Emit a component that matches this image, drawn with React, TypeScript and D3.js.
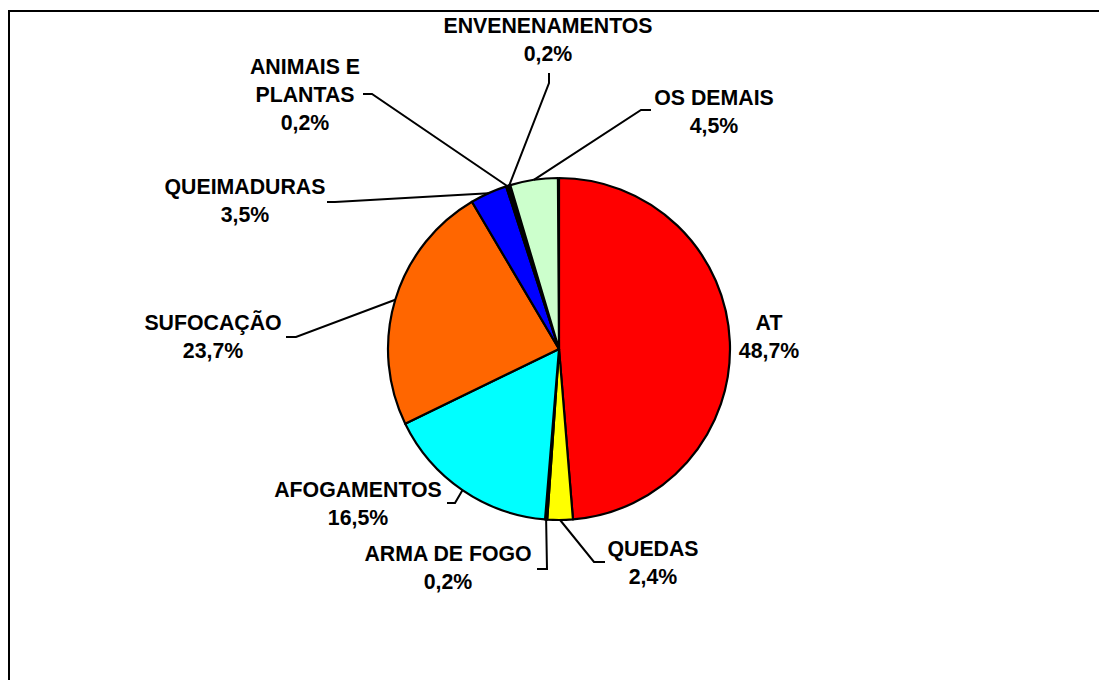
import React from "react";
import * as d3 from "d3";

const categories = [
  "AT",
  "QUEDAS",
  "ARMA DE FOGO",
  "AFOGAMENTOS",
  "SUFOCAÇÃO",
  "QUEIMADURAS",
  "ANIMAIS E PLANTAS",
  "ENVENENAMENTOS",
  "OS DEMAIS",
];
const values = [48.7, 2.4, 0.2, 16.5, 23.7, 3.5, 0.2, 0.2, 4.5];
const valueLabels = ["48,7%", "2,4%", "0,2%", "16,5%", "23,7%", "3,5%", "0,2%", "0,2%", "4,5%"];
const labelLines = [
  ["AT"],
  ["QUEDAS"],
  ["ARMA DE FOGO"],
  ["AFOGAMENTOS"],
  ["SUFOCAÇÃO"],
  ["QUEIMADURAS"],
  ["ANIMAIS E", "PLANTAS"],
  ["ENVENENAMENTOS"],
  ["OS DEMAIS"],
];
const colors = ["#FF0000", "#FFFF00", "#000000", "#00FFFF", "#FF6600", "#0000FF", "#800080", "#000000", "#CCFFCC"];

// layout: label center x, first-line center y, leader elbow and end points (null = no leader)
const labelLayout: { x: number; y: number; elbow: [number, number] | null; end: [number, number] | null }[] = [
  { x: 769, y: 322, elbow: null, end: null },
  { x: 653, y: 548, elbow: [594, 562], end: [605, 562] },
  { x: 448, y: 553, elbow: [547, 569], end: [537, 569] },
  { x: 358, y: 489, elbow: [455, 503], end: [447, 503] },
  { x: 213, y: 322, elbow: [296, 337], end: [286, 337] },
  { x: 245, y: 186, elbow: [335, 202], end: [327, 202] },
  { x: 305, y: 66, elbow: [372, 94], end: [363, 94] },
  { x: 548, y: 25, elbow: [549, 83], end: [549, 73] },
  { x: 714, y: 97, elbow: [641, 110], end: [651, 110] },
];

const W = 1099;
const H = 680;
const cx = 559;
const cy = 349;
const R = 171;
const lineH = 28;

export default function App() {
  const pie = d3
    .pie<number>()
    .sort(null)
    .value((d) => d)
    .startAngle(0)
    .endAngle((2 * Math.PI * d3.sum(values)) / 100);
  const arcs = pie(values);
  const arc = d3.arc<d3.PieArcDatum<number>>().innerRadius(0).outerRadius(R);

  return (
    <svg
      width={W}
      height={H}
      style={{ position: "absolute", left: 0, top: 0, background: "#fff" }}
      fontFamily="'Liberation Sans', Arial, sans-serif"
    >
      <rect x={9} y={11} width={1200} height={1000} fill="#fff" stroke="#000" strokeWidth={2} />
      <g transform={`translate(${cx},${cy})`}>
        {arcs.map((a, i) => (
          <path key={i} d={arc(a) || ""} fill={colors[i]} stroke="#000" strokeWidth={2.2} strokeLinejoin="round" />
        ))}
      </g>
      {arcs.map((a, i) => {
        const L = labelLayout[i];
        if (!L.elbow || !L.end) return null;
        const mid = (a.startAngle + a.endAngle) / 2;
        const ex = cx + R * Math.sin(mid);
        const ey = cy - R * Math.cos(mid);
        const pts: [number, number][] = [[ex, ey], L.elbow, L.end];
        return (
          <path
            key={"l" + i}
            d={d3.line()(pts) || ""}
            fill="none"
            stroke="#000"
            strokeWidth={2}
          />
        );
      })}
      {categories.map((c, i) => {
        const L = labelLayout[i];
        const lines = [...labelLines[i], valueLabels[i]];
        return (
          <text
            key={"t" + c}
            x={L.x}
            textAnchor="middle"
            fontWeight="bold"
            fontSize={21.3}
            fill="#000"
          >
            {lines.map((ln, j) => (
              <tspan key={j} x={L.x} y={L.y + j * lineH + 7.5}>
                {ln}
              </tspan>
            ))}
          </text>
        );
      })}
    </svg>
  );
}
